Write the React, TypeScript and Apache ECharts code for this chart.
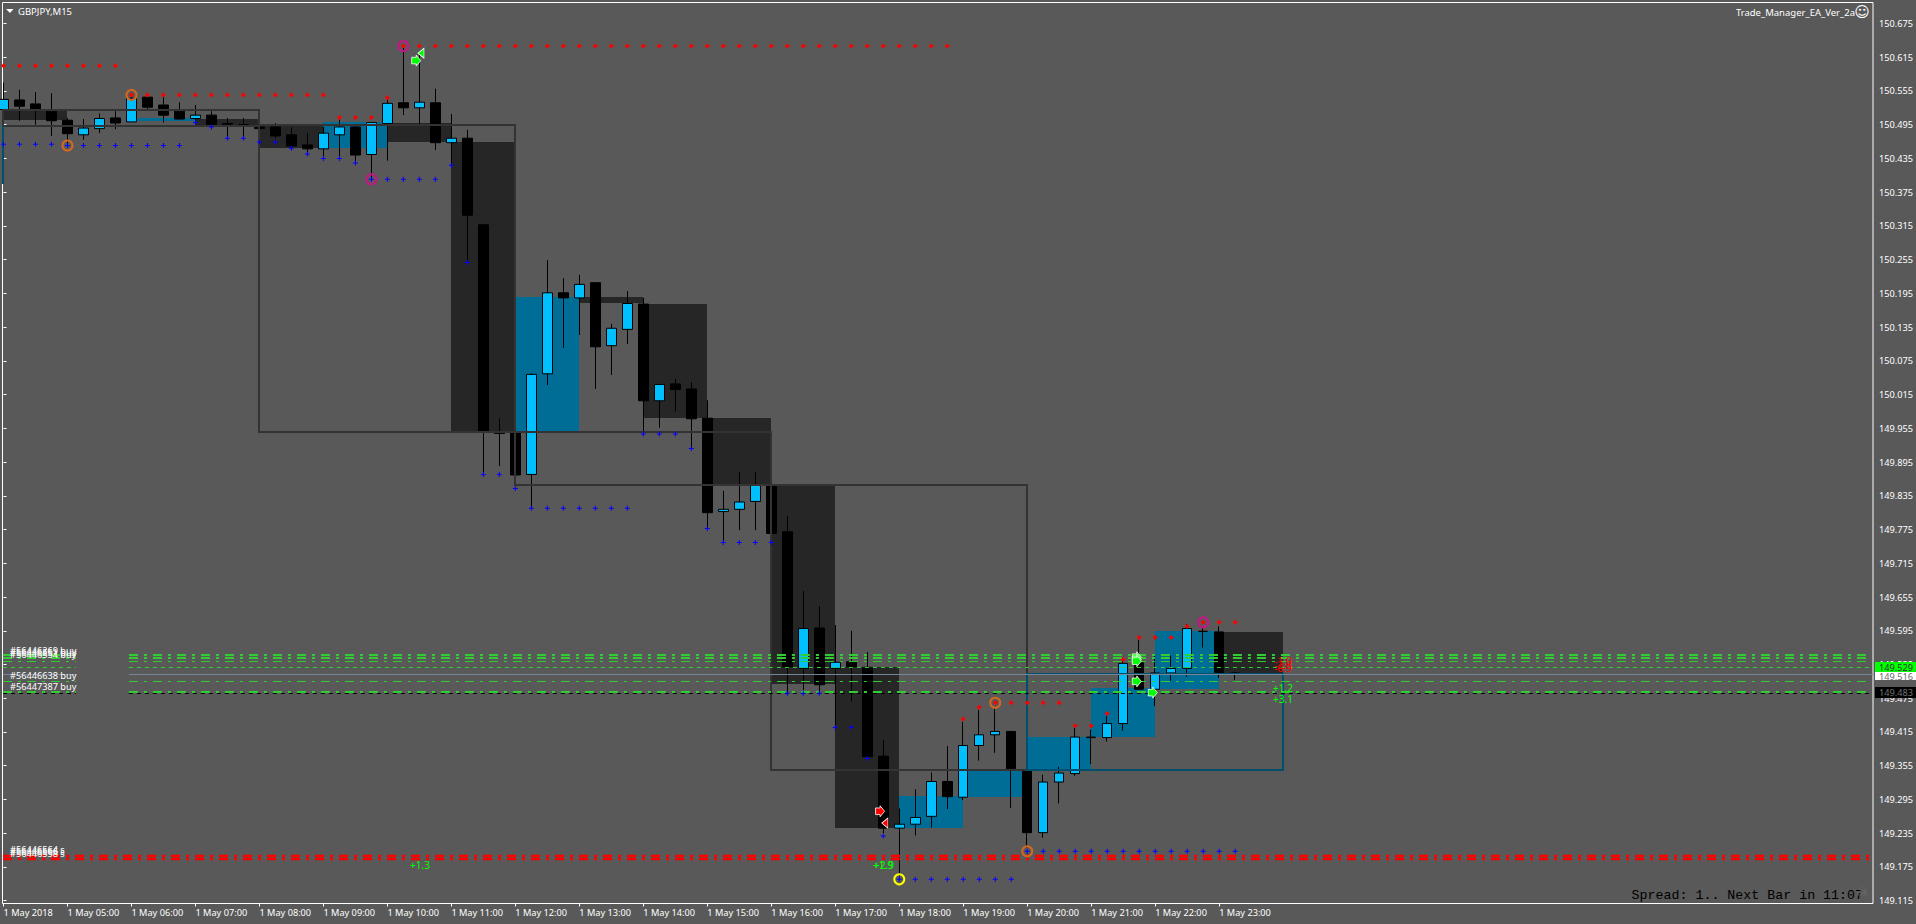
import React, { useEffect, useRef } from "react";
import * as echarts from "echarts";

const BG = "#595959";
const FONT = "'Noto Sans', sans-serif";

// Bars, one every 15 minutes from 04:00
const openValues = [150.522,150.539,150.532,150.519,150.503,150.477,150.488,150.507,150.500,150.544,150.530,150.519,150.506,150.512,150.497,150.495,150.491,150.491,150.477,150.459,150.452,150.477,150.491,150.442,150.497,150.534,150.525,150.534,150.463,150.471,150.317,149.947,149.948,149.873,150.052,150.196,150.187,150.214,150.102,150.131,150.176,150.004,150.034,150.025,149.973,149.807,149.811,149.825,149.855,149.771,149.528,149.600,149.528,149.540,149.530,149.372,149.244,149.251,149.265,149.327,149.299,149.391,149.410,149.416,149.347,149.236,149.326,149.341,149.405,149.405,149.430,149.538,149.491,149.520,149.528,149.594,149.593,149.520];
const closeValues = [150.540,150.528,150.522,150.502,150.479,150.489,150.506,150.498,150.542,150.526,150.512,150.505,150.512,150.495,150.496,150.494,150.488,150.475,150.457,150.452,150.480,150.491,150.441,150.499,150.533,150.525,150.535,150.463,150.471,150.334,149.948,149.946,149.872,150.051,150.196,150.187,150.211,150.100,150.133,150.177,150.004,150.033,150.024,149.972,149.805,149.811,149.824,149.854,149.768,149.531,149.599,149.499,149.539,149.531,149.371,149.244,149.251,149.263,149.327,149.300,149.391,149.410,149.416,149.349,149.236,149.326,149.342,149.406,149.406,149.430,149.537,149.491,149.520,149.528,149.599,149.594,149.519,149.519];
const lowValues = [150.521,150.502,150.495,150.475,150.459,150.468,150.480,150.487,150.500,150.522,150.499,150.505,150.503,150.489,150.471,150.471,150.487,150.471,150.454,150.445,150.436,150.436,150.429,150.397,150.431,150.512,150.495,150.450,150.422,150.251,149.876,149.888,149.863,149.813,150.032,150.098,150.121,150.025,150.050,150.105,149.947,149.956,149.985,149.920,149.778,149.753,149.774,149.774,149.767,149.484,149.490,149.484,149.424,149.469,149.371,149.235,149.158,149.231,149.245,149.278,149.294,149.364,149.378,149.280,149.209,149.227,149.288,149.337,149.358,149.398,149.417,149.490,149.461,149.506,149.513,149.565,149.511,149.507];
const highValues = [150.570,150.557,150.553,150.551,150.507,150.505,150.515,150.519,150.550,150.545,150.545,150.535,150.530,150.519,150.507,150.507,150.491,150.498,150.490,150.480,150.491,150.507,150.496,150.500,150.542,150.634,150.619,150.559,150.514,150.486,150.317,149.973,149.948,150.053,150.254,150.222,150.228,150.214,150.141,150.199,150.187,150.034,150.043,150.037,150.005,149.844,149.877,149.878,149.856,149.799,149.666,149.639,149.605,149.595,149.557,149.401,149.279,149.313,149.343,149.390,149.433,149.454,149.457,149.417,149.347,149.339,149.353,149.422,149.419,149.443,149.543,149.579,149.550,149.551,149.607,149.602,149.603,149.522];

// Price axis
const priceTicks = [150.675,150.615,150.555,150.495,150.435,150.375,150.315,150.255,150.195,150.135,150.075,150.015,149.955,149.895,149.835,149.775,149.715,149.655,149.595,149.535,149.475,149.415,149.355,149.295,149.235,149.175,149.115];
// Time axis
const timeTicks = [0,4,8,12,16,20,24,28,32,36,40,44,48,52,56,60,64,68,72,76];
const timeLabels = ["1 May 2018","1 May 05:00","1 May 06:00","1 May 07:00","1 May 08:00","1 May 09:00","1 May 10:00","1 May 11:00","1 May 12:00","1 May 13:00","1 May 14:00","1 May 15:00","1 May 16:00","1 May 17:00","1 May 18:00","1 May 19:00","1 May 20:00","1 May 21:00","1 May 22:00","1 May 23:00"];

// [from bar, to bar, price, price]
const darkZones = [
  [0,4,150.522,150.503],[12,16,150.506,150.491],[16,20,150.4945,150.454],[24,28,150.498,150.465],
  [28,32,150.464,149.948],[36,40,150.188,150.178],[40,44,150.176,149.973],[44,48,149.973,149.854],
  [48,52,149.854,149.500],[52,56,149.530,149.245],[76,80,149.593,149.519],
];
const blueZones = [
  [8,12,150.507,150.502],[20,24,150.500,150.454],[32,36,150.188,149.950],[56,60,149.301,149.245],
  [60,64,149.346,149.300],[64,68,149.406,149.349],[68,72,149.493,149.406],[72,76,149.594,149.491],
];
const greyBoxes = [
  [0,16,150.521,150.493],[16,32,150.4945,149.948],[32,48,149.948,149.855],[48,64,149.855,149.347],
];
const tealBoxes = [
  [-16,0,150.493,150.391],[64,80,149.518,149.347],
];

// Indicator dots: [bar, price]
const redDots: number[][] = [
  ...[0,1,2,3,4,5,6,7].map((k) => [k,150.600]),
  ...[8,9,10,11,12,13,14,15,16,17,18,19,20].map((k) => [k,150.548]),
  [21,150.508],[22,150.508],[23,150.508],[24,150.543],
  ...[25,26,27,28,29,30,31,32,33,34,35,36,37,38,39,40,41,42,43,44,45,46,47,48,49,50,51,52,53,54,55,56,57,58,59].map((k) => [k,150.635]),
  [60,149.438],[61,149.459],[62,149.467],[63,149.467],[64,149.467],[65,149.467],[66,149.467],
  [67,149.426],[68,149.426],[69,149.448],[70,149.544],[71,149.583],[72,149.583],[73,149.583],
  [74,149.603],[75,149.610],[76,149.610],[77,149.610],
];
const blueDots: number[][] = [
  [0,150.460],[1,150.460],[2,150.460],[3,150.460],
  ...[4,5,6,7,8,9,10,11].map((k) => [k,150.458]),
  [12,150.499],[13,150.491],[14,150.471],[15,150.471],[16,150.464],[17,150.464],[18,150.453],[19,150.443],
  [20,150.435],[21,150.435],[22,150.427],[23,150.398],[24,150.398],[25,150.398],[26,150.398],[27,150.398],
  [28,150.423],[29,150.250],[30,149.873],[31,149.873],[32,149.848],
  ...[33,34,35,36,37,38,39].map((k) => [k,149.813]),
  [40,149.945],[41,149.945],[42,149.945],[43,149.919],[44,149.777],[45,149.752],[46,149.752],[47,149.752],[48,149.752],
  [49,149.484],[50,149.484],[51,149.484],[52,149.423],[53,149.423],[54,149.368],[55,149.230],
  ...[56,57,58,59,60,61,62,63].map((k) => [k,149.153]),
  ...[64,65,66,67,68,69,70,71,72,73,74,75,76,77].map((k) => [k,149.203]),
];
const orangeRings = [[4,150.458],[8,150.548],[62,149.467],[64,149.203]];
const magentaRings = [[25,150.635],[23,150.398],[75,149.610]];
const yellowRings = [[56,149.153]];

// Trade arrows: [bar, price]
const greenRightArrows = [[25.8,150.609],[70.85,149.548],[70.85,149.544],[70.85,149.541],[70.85,149.505],[71.85,149.485]];
const greenLeftArrows = [[26.1,150.622]];
const redRightArrows = [[54.8,149.274]];
const redLeftArrows = [[55.1,149.253]];

// Horizontal order levels
const greenDashDotLevels = [149.5519,149.5466,149.5403,149.5048,149.4861];
const greenDashDotWidths = [2,2,1,1,2];
const greenFineLevel = [149.5297];
const blackLevel = [149.4834];
const greyLevel = [149.5172];
const redLevels = [149.1944,149.1891];

const priceTags = [
  { text: "149.529", y: 662, h: 10, bg: "#00ff00", fg: "#333333" },
  { text: "149.516", y: 672, h: 8, bg: "#ffffff", fg: "#6a6a6a" },
  { text: "149.483", y: 687, h: 11, bg: "#000000", fg: "#707070" },
];
const orderLabels = [
  ["#56446369 buy", 650], ["#56446551 buy", 652.5], ["#56446554 buy", 654],
  ["#56446638 buy", 675.5], ["#56447387 buy", 686.5],
  ["#56446564 s", 849], ["#56446566 s", 851], ["#56446558 s", 853],
];
const profitLabels = [
  ["+1.3", 420, 864.5, "#00ff00"], ["+1.9", 883, 865, "#00ff00"], ["+2.9", 884, 865, "#00ff00"],
  ["+1.2", 1283, 688, "#00ff00"], ["+3.1", 1283, 699, "#00ff00"],
  ["-1.0", 1283, 661, "#ff0000"], ["-2.8", 1283, 664.5, "#ff0000"], ["-0.9", 1283, 668, "#ff0000"],
];

const PLUS = "path://M2 0H3V2H5V3H3V5H2V3H0V2H2Z";
const RIGHT_ARROW = "path://M0 2H4V0L8 5L4 10V8H0Z";
const LEFT_TRI = "path://M6 0V10L0 5Z";

function zoneSeries(data: number[][], fill: string, z: number) {
  return {
    type: "custom", data, z, clip: true, silent: true,
    encode: { x: [0, 1], y: [2, 3] },
    renderItem: (_: any, api: any) => {
      const a = api.coord([api.value(0), api.value(2)]);
      const b = api.coord([api.value(1), api.value(3)]);
      const x0 = Math.floor(a[0]), x1 = Math.floor(b[0]), y0 = Math.round(a[1]), y1 = Math.round(b[1]);
      return { type: "rect", shape: { x: x0, y: y0, width: x1 - x0, height: y1 - y0 }, style: { fill } };
    },
  };
}
function boxSeries(data: number[][], stroke: string, z: number) {
  return {
    type: "custom", data, z, clip: true, silent: true,
    encode: { x: [0, 1], y: [2, 3] },
    renderItem: (_: any, api: any) => {
      const a = api.coord([api.value(0), api.value(2)]);
      const b = api.coord([api.value(1), api.value(3)]);
      const x0 = Math.floor(a[0]), x1 = Math.floor(b[0]), y0 = Math.round(a[1]), y1 = Math.round(b[1]);
      return { type: "rect", shape: { x: x0, y: y0, width: x1 - x0, height: y1 - y0 }, style: { fill: "none", stroke, lineWidth: 2 } };
    },
  };
}
function levelSeries(price: number, from: number, to: number, color: string, width: number, dash: any, z = 6) {
  return {
    type: "line", symbol: "none", silent: true, z,
    data: [[from, price], [to, price]],
    lineStyle: { color, width, type: dash },
  };
}
function dotSeries(data: number[][], symbol: string, size: number, color: string) {
  return { type: "scatter", data, symbol, symbolSize: size, z: 7, silent: true, itemStyle: { color, opacity: 1 } };
}
function ringSeries(data: number[][], color: string) {
  return {
    type: "scatter", data, symbol: "circle", symbolSize: 10, z: 8, silent: true,
    itemStyle: { color: "rgba(0,0,0,0)", borderColor: color, borderWidth: 2, opacity: 1 },
  };
}
function arrowSeries(data: number[][], symbol: string, size: number[], color: string) {
  return {
    type: "scatter", data, symbol, symbolSize: size, z: 9, silent: true,
    itemStyle: { color, borderColor: "#ffffff", borderWidth: 0.8, opacity: 1 },
  };
}

export default function App() {
  const ref = useRef<HTMLDivElement>(null);
  useEffect(() => {
    document.body.style.margin = "0";
    document.body.style.background = BG;
    const chart = echarts.init(ref.current!, null, { renderer: "svg" });

    const levels: any[] = [];
    const seg: [number, number][] = [[-0.03, 4.53], [7.84, 116.66]];
    seg.forEach(([a, b]) => {
      greenDashDotLevels.forEach((p, i) =>
        levels.push(levelSeries(p, a, b, "#32cd32", greenDashDotWidths[i], [9, 6, 3, 6])));
      greenFineLevel.forEach((p) => levels.push(levelSeries(p, a, b, "#32cd32", 1, [4, 4])));
      greyLevel.forEach((p) => levels.push(levelSeries(p, a, b === 116.66 ? 116.87 : b, "#778899", 1, "solid")));
      blackLevel.forEach((p) => levels.push(levelSeries(p, a, b, "#000000", 1, [4, 4], 6)));
    });
    redLevels.forEach((p) => levels.push(levelSeries(p, -0.03, 116.66, "#ff0000", 2.5, [9, 6, 3, 6])));

    const graphics: any[] = [
      { type: "polygon", z: 1000, shape: { points: [[6, 9], [13.5, 9], [10, 13]] }, style: { fill: "#ffffff" } },
      { type: "text", z: 1000, x: 18, y: 11, style: { text: "GBPJPY,M15", font: `9.5px ${FONT}`, fill: "#ffffff", textVerticalAlign: "middle" } },
      { type: "text", z: 1000, x: 1855, y: 12, style: { text: "Trade_Manager_EA_Ver_2a", font: `9.5px ${FONT}`, fill: "#ffffff", textAlign: "right", textVerticalAlign: "middle" } },
      { type: "text", z: 1000, x: 1862, y: 12, style: { text: "\u263A", font: `15px 'DejaVu Sans'`, fill: "#ffffff", textAlign: "center", textVerticalAlign: "middle" } },
      { type: "text", z: 1000, x: 1863, y: 895, style: { text: "Spread: 1.. Next Bar in 11:07", font: `13.3px 'Liberation Mono'`, fill: "#000000", textAlign: "right", textVerticalAlign: "middle" } },
      { type: "text", z: 1000, x: 1863, y: 891, style: { text: "\u2620", font: `13px 'DejaVu Sans'`, fill: "#6e6e6e", textAlign: "center", textVerticalAlign: "middle" } },
    ];
    priceTags.forEach((t) => {
      graphics.push({ type: "rect", z: 1000, shape: { x: 1875, y: t.y, width: 41, height: t.h }, style: { fill: t.bg } });
      graphics.push({ type: "text", z: 1001, x: 1879, y: t.y + t.h / 2, style: { text: t.text, font: `9.2px ${FONT}`, fill: t.fg, textVerticalAlign: "middle" } });
    });
    orderLabels.forEach(([text, y]) =>
      graphics.push({ type: "text", z: 1000, x: 10, y, style: { text, font: `9.2px ${FONT}`, fill: "#ffffff", textVerticalAlign: "middle" } }));
    profitLabels.forEach(([text, x, y, fill]) =>
      graphics.push({ type: "text", z: 1000, x, y, style: { text, font: `10px ${FONT}`, fill, textAlign: "center", textVerticalAlign: "middle" } }));

    chart.setOption({
      animation: false,
      backgroundColor: BG,
      grid: { left: 2.5, top: 2.5, width: 1871, height: 901, show: true, backgroundColor: BG, borderColor: "#ffffff", borderWidth: 1 },
      xAxis: {
        type: "value", min: -0.0625, max: 116.875, splitLine: { show: false },
        axisLine: { show: false },
        axisTick: { show: true, length: 3, lineStyle: { color: "#ffffff" }, customValues: timeTicks },
        axisLabel: {
          customValues: timeTicks, align: "left", margin: 4, color: "#ffffff", fontSize: 9.2, fontFamily: FONT,
          formatter: (v: number) => timeLabels[timeTicks.indexOf(v)] ?? "",
        },
      },
      yAxis: {
        type: "value", position: "right", min: 149.11, max: 150.7123, splitLine: { show: false },
        axisLine: { show: false },
        axisTick: { show: true, length: 3, lineStyle: { color: "#ffffff" }, customValues: priceTicks },
        axisLabel: {
          customValues: priceTicks, margin: 6, color: "#ffffff", fontSize: 9.2, fontFamily: FONT,
          formatter: (v: number) => v.toFixed(3),
        },
      },
      tooltip: { show: false },
      series: [
        zoneSeries(darkZones, "#262626", 1),
        zoneSeries(blueZones, "#006d96", 1),
        {
          type: "candlestick", z: 3, silent: true, barWidth: 10,
          data: openValues.map((o, k) => [k, o, closeValues[k], lowValues[k], highValues[k]]),
          itemStyle: { color: "#00bfff", color0: "#000000", borderColor: "#000000", borderColor0: "#000000", borderColorDoji: "#000000", borderWidth: 1 },
        },
        boxSeries(greyBoxes, "#333333", 4),
        boxSeries(tealBoxes, "#004f6e", 4),
        ...levels,
        dotSeries(redDots, "diamond", 5, "#ff0000"),
        dotSeries(blueDots, PLUS, 5, "#0000ff"),
        ringSeries(orangeRings, "#d2691e"),
        ringSeries(magentaRings, "#c71585"),
        ringSeries(yellowRings, "#ffff00"),
        arrowSeries(greenRightArrows, RIGHT_ARROW, [9, 11], "#00ff00"),
        arrowSeries(greenLeftArrows, LEFT_TRI, [6, 10], "#00ff00"),
        arrowSeries(redRightArrows, RIGHT_ARROW, [9, 11], "#ff0000"),
        arrowSeries(redLeftArrows, LEFT_TRI, [6, 10], "#ff0000"),
      ],
      graphic: { z: 1000, elements: graphics },
    });
    return () => chart.dispose();
  }, []);
  return <div ref={ref} style={{ position: "fixed", left: 0, top: 0, width: 1916, height: 924 }} />;
}
